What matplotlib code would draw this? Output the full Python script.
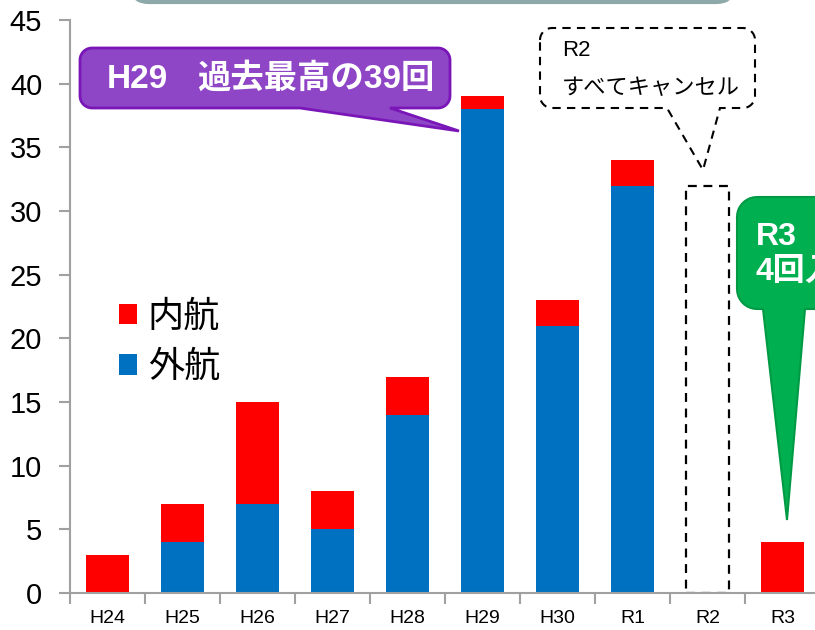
import matplotlib
matplotlib.use('Agg')
import matplotlib.pyplot as plt
import numpy as np
from matplotlib.patches import Polygon, FancyBboxPatch

categories = ['H24', 'H25', 'H26', 'H27', 'H28', 'H29', 'H30', 'R1', 'R2', 'R3']
gaiko = [0, 4, 7, 5, 14, 38, 21, 32, 0, 0]     # 外航 (blue, bottom)
naiko = [3, 3, 8, 3, 3, 1, 2, 2, 0, 4]         # 内航 (red, top)
r2_outline = 32                                 # dashed outline for cancelled R2
yticks = [0, 5, 10, 15, 20, 25, 30, 35, 40, 45]

W, H = 815, 630
JP = ['Liberation Sans', 'Noto Sans CJK JP']
plt.rcParams['font.family'] = JP

fig = plt.figure(figsize=(W / 100, H / 100), dpi=100)
ax = fig.add_axes([70 / W, 1 - 593 / H, 750 / W, (593 - 20) / H])

x = np.arange(len(categories))
bw = 0.58
b_gai = ax.bar(x, gaiko, width=bw, color='#0070C0', zorder=2)
b_nai = ax.bar(x, naiko, bottom=gaiko, width=bw, color='#FF0000', zorder=2)
ax.bar(x[8], r2_outline, width=bw, fill=False, edgecolor='black',
       linestyle=(0, (4, 3)), linewidth=1.6, zorder=2)

ax.set_xlim(-0.5, len(categories) - 0.5)
ax.set_ylim(0, 45)
ax.set_yticks(yticks)
ax.set_xticks(np.arange(-0.5, len(categories), 1))
ax.set_xticklabels([])
ax.set_xticks(x, minor=True)
ax.set_xticklabels(categories, minor=True)
ax.tick_params(axis='x', which='major', length=8, color='#A0A0A0', width=1.5, direction='out')
ax.tick_params(axis='x', which='minor', length=0, pad=12, labelsize=14)
ax.tick_params(axis='y', length=8, color='#A0A0A0', width=1.5, pad=12, labelsize=21)
for s in ['top', 'right']:
    ax.spines[s].set_visible(False)
for s in ['left', 'bottom']:
    ax.spines[s].set_color('#A0A0A0')
    ax.spines[s].set_linewidth(1.5)

leg = ax.legend([b_nai, b_gai], ['内航', '外航'], loc='upper left',
                bbox_to_anchor=(119 / W, 1 - 300 / H), bbox_transform=fig.transFigure,
                frameon=False, fontsize=26, handlelength=0.5, handleheight=0.5,
                handletextpad=0.3, labelspacing=0.42, borderpad=0, borderaxespad=0)


def P(px, py):
    return (px / W, 1 - py / H)


def callout(x0, y0, x1, y1, r, bx0, bx1, tx, ty):
    pts = []

    def arc(cx, cy, a0, a1):
        for t in np.linspace(np.radians(a0), np.radians(a1), 10):
            pts.append((cx + r * np.cos(t), cy + r * np.sin(t)))
    arc(x0 + r, y0 + r, 180, 270)
    arc(x1 - r, y0 + r, 270, 360)
    arc(x1 - r, y1 - r, 0, 90)
    pts.append((bx1, y1))
    pts.append((tx, ty))
    pts.append((bx0, y1))
    arc(x0 + r, y1 - r, 90, 180)
    return [P(a, b) for a, b in pts]


# top box (mostly outside the figure)
top = FancyBboxPatch(P(133, 2), (732 - 133) / W, 60 / H,
                     boxstyle='round,pad=0,rounding_size=0.02',
                     transform=fig.transFigure, facecolor='#EEF3F3',
                     edgecolor='#8EA9A9', linewidth=3)
fig.add_artist(top)

# purple callout
fig.add_artist(Polygon(callout(80, 48, 450, 108, 12, 300, 390, 459, 131), closed=True,
                       transform=fig.transFigure, facecolor='#8E46C6',
                       edgecolor='#7A16B8', linewidth=2, zorder=5))
fig.text(*P(107, 79), 'H29', color='white', fontsize=24,
         fontweight='bold', ha='left', va='center', zorder=6)
fig.text(*P(197, 79), '過去最高の39回', color='white', fontsize=24,
         fontweight='bold', ha='left', va='center', zorder=6)

# dashed callout
fig.add_artist(Polygon(callout(540, 28, 755, 108, 12, 667, 720, 703, 170), closed=True,
                       transform=fig.transFigure, facecolor='white',
                       edgecolor='black', linewidth=1.5, linestyle=(0, (4, 3)), zorder=5))
fig.text(*P(562, 50), 'R2', color='black', fontsize=16, ha='left', va='center', zorder=6)
fig.text(*P(562, 88), 'すべてキャンセル', color='black', fontsize=16, ha='left',
         va='center', zorder=6)

# green callout
fig.add_artist(Polygon(callout(737, 197, 900, 309, 20, 763, 805, 787, 520), closed=True,
                       transform=fig.transFigure, facecolor='#00B050',
                       edgecolor='#009A45', linewidth=1.5, zorder=5))
fig.text(*P(756, 237), 'R3', color='white', fontsize=23, fontweight='bold',
         ha='left', va='center', zorder=6)
fig.text(*P(756, 272), '4回入港', color='white', fontsize=23, fontweight='bold',
         ha='left', va='center', zorder=6)

fig.savefig('out.png', dpi=100)
